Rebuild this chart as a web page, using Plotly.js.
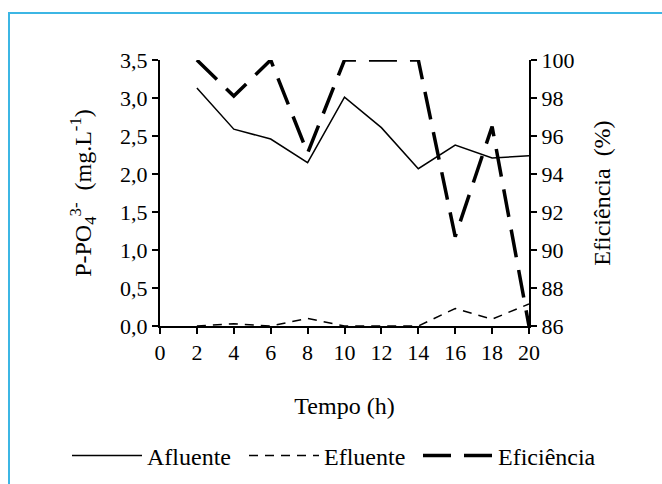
<!DOCTYPE html>
<html>
<head>
<meta charset="utf-8">
<script src="https://cdn.plot.ly/plotly-3.0.1.min.js"></script>
<style>
  html, body { margin: 0; padding: 0; background: #fff; }
  #wrap { position: relative; width: 662px; height: 484px; overflow: hidden; }
  #chart { position: absolute; left: 0; top: 0; width: 662px; height: 484px; }
  #frame { position: absolute; left: 8px; top: 12px; width: 700px; height: 500px;
           border-left: 2px solid #3cb6e4; border-top: 2px solid #3cb6e4; pointer-events: none; z-index: 10; }
</style>
</head>
<body>
<div id="wrap">
  <div id="chart"></div>
  <div id="frame"></div>
</div>
<script>
// Data
const tempo      = [2, 4, 6, 8, 10, 12, 14, 16, 18, 20];
const afluente   = [3.13, 2.59, 2.46, 2.15, 3.01, 2.61, 2.07, 2.38, 2.21, 2.24];
const efluente   = [0.00, 0.03, 0.00, 0.10, 0.00, 0.00, 0.00, 0.23, 0.09, 0.29];
const eficiencia = [100, 98.1, 100, 95.1, 100, 100, 100, 90.7, 96.5, 86.0];
const xTicks     = [0, 2, 4, 6, 8, 10, 12, 14, 16, 18, 20];
const yTicks     = [0, 0.5, 1.0, 1.5, 2.0, 2.5, 3.0, 3.5];
const y2Ticks    = [86, 88, 90, 92, 94, 96, 98, 100];

const FONT = 'Times New Roman, Liberation Serif, serif';

const traces = [
  { x: tempo, y: afluente, name: 'Afluente', type: 'scatter', mode: 'lines', legend: 'legend',
    line: { color: '#000', width: 1.5 }, cliponaxis: false },
  { x: tempo, y: efluente, name: 'Efluente', type: 'scatter', mode: 'lines', legend: 'legend2',
    line: { color: '#000', width: 1.5, dash: '9px,7px' }, cliponaxis: false },
  { x: tempo, y: eficiencia, name: 'Eficiência', type: 'scatter', mode: 'lines', yaxis: 'y2', legend: 'legend3',
    line: { color: '#000', width: 3.5, dash: '28px,13px' }, cliponaxis: false }
];

const axisCommon = {
  showline: true, linecolor: '#000', linewidth: 2,
  ticks: 'outside', ticklen: 6, tickwidth: 2, tickcolor: '#000',
  showgrid: false, zeroline: false, automargin: false,
  tickfont: { family: FONT, size: 22, color: '#000' }
};

function legendAt(xpx) {
  return { orientation: 'h', xref: 'container', yref: 'container',
           x: xpx / 662, xanchor: 'left', y: 1 - 456 / 484, yanchor: 'middle',
           font: { family: FONT, size: 24, color: '#000' },
           itemwidth: 70, bgcolor: 'rgba(0,0,0,0)', borderwidth: 0 };
}

const layout = {
  width: 662, height: 484,
  margin: { l: 160, r: 133, t: 60, b: 158, autoexpand: false },
  paper_bgcolor: '#fff', plot_bgcolor: '#fff',
  separators: ',.',
  font: { family: FONT, size: 22, color: '#000' },
  showlegend: true,
  legend: legendAt(67),
  legend2: legendAt(244),
  legend3: legendAt(418),
  xaxis: Object.assign({}, axisCommon, {
    range: [0, 20], tickvals: xTicks, ticktext: xTicks.map(String),
    title: { text: 'Tempo (h)', font: { family: FONT, size: 24, color: '#000' }, standoff: 33 }
  }),
  yaxis: Object.assign({}, axisCommon, {
    range: [0, 3.5], tickvals: yTicks, tickformat: '.1f',
    title: { text: 'P-PO<sub>4</sub><sup>3-</sup>  (mg.L<sup>-1</sup>)', font: { family: FONT, size: 24, color: '#000' }, standoff: 22 }
  }),
  yaxis2: Object.assign({}, axisCommon, {
    range: [86, 100], tickvals: y2Ticks, overlaying: 'y', side: 'right',
    title: { text: 'Eficiência  (%)', font: { family: FONT, size: 24, color: '#000' }, standoff: 20 }
  })
};

Plotly.newPlot('chart', traces, layout, { displayModeBar: false, staticPlot: true });
</script>
</body>
</html>
